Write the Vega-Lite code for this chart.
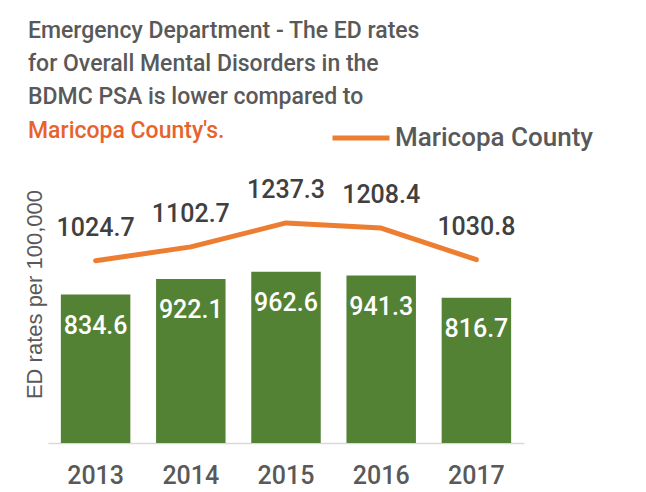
{
  "$schema": "https://vega.github.io/schema/vega-lite/v6.json",
  "width": 476,
  "height": 249,
  "autosize": {"type": "none"},
  "padding": {"left": 48, "top": 194, "right": 122, "bottom": 49},
  "background": "white",
  "config": {
    "view": {"stroke": null},
    "font": "Roboto"
  },
  "title": {
    "text": ["Emergency Department - The ED rates", "for Overall Mental Disorders in the", "BDMC PSA is lower compared to"],
    "subtitle": "Maricopa County's.",
    "anchor": "start",
    "frame": "group",
    "font": "Roboto",
    "fontSize": 23,
    "fontWeight": 500,
    "color": "#595959",
    "lineHeight": 33,
    "subtitleFont": "Roboto",
    "subtitleFontSize": 23,
    "subtitleFontWeight": 500,
    "subtitleColor": "#E8632B",
    "subtitleLineHeight": 33,
    "subtitlePadding": 11,
    "dx": -20,
    "offset": -36
  },
  "data": {
    "values": [
      {"year": "2013", "bdmc": 834.6, "maricopa": 1024.7},
      {"year": "2014", "bdmc": 922.1, "maricopa": 1102.7},
      {"year": "2015", "bdmc": 962.6, "maricopa": 1237.3},
      {"year": "2016", "bdmc": 941.3, "maricopa": 1208.4},
      {"year": "2017", "bdmc": 816.7, "maricopa": 1030.8}
    ]
  },
  "encoding": {
    "x": {
      "field": "year",
      "type": "ordinal",
      "scale": {"paddingInner": 0.27, "paddingOuter": 0.135},
      "axis": {
        "title": null,
        "labelAngle": 0,
        "ticks": false,
        "domainColor": "#D9D9D9",
        "domainWidth": 1.5,
        "labelColor": "#595959",
        "labelFontSize": 25,
        "labelFontWeight": 500,
        "labelFont": "Roboto",
        "labelPadding": 20
      }
    }
  },
  "layer": [
    {
      "mark": {"type": "bar", "color": "#548235"},
      "encoding": {
        "y": {
          "field": "bdmc",
          "type": "quantitative",
          "scale": {"domain": [0, 1400], "nice": false},
          "axis": {
            "title": "ED rates per 100,000",
            "titleFont": "Liberation Sans",
            "titleFontSize": 22,
            "titleFontWeight": "normal",
            "titleColor": "#595959",
            "titleBaseline": "alphabetic",
            "titleX": -7,
            "titleY": 100,
            "labels": false,
            "ticks": false,
            "domain": false,
            "grid": false
          }
        }
      }
    },
    {
      "mark": {"type": "text", "color": "white", "fontSize": 25, "fontWeight": 500, "baseline": "middle", "dy": 31},
      "encoding": {
        "y": {"field": "bdmc", "type": "quantitative"},
        "text": {"field": "bdmc", "type": "quantitative", "format": ".1f"}
      }
    },
    {
      "mark": {"type": "line", "strokeWidth": 5, "strokeCap": "round", "strokeJoin": "round"},
      "encoding": {
        "y": {"field": "maricopa", "type": "quantitative"},
        "color": {
          "datum": "Maricopa County",
          "scale": {"range": ["#ED7D31"]},
          "legend": {
            "title": null,
            "orient": "none",
            "legendX": 282,
            "legendY": -87,
            "padding": 0,
            "symbolType": "stroke",
            "symbolSize": 3249,
            "symbolStrokeWidth": 5,
            "labelFontSize": 26,
            "labelFontWeight": 500,
            "labelFont": "Roboto",
            "labelColor": "#595959",
            "labelOffset": 3,
            "labelLimit": 400
          }
        }
      }
    },
    {
      "mark": {"type": "text", "color": "#404040", "fontSize": 25, "fontWeight": 500, "baseline": "middle", "dy": -33},
      "encoding": {
        "y": {"field": "maricopa", "type": "quantitative"},
        "text": {"field": "maricopa", "type": "quantitative", "format": ".1f"}
      }
    }
  ]
}
